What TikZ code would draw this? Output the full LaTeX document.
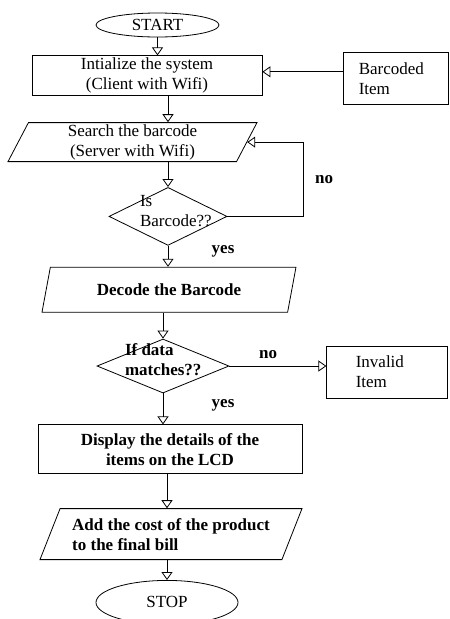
\documentclass[tikz,border=0pt]{standalone}
\usepackage{fontspec}
\setmainfont{Liberation Serif}
\usetikzlibrary{shapes.geometric,arrows.meta,positioning}
\newcommand{\flowfont}{\fontsize{17}{20}\selectfont}
\newcommand{\dtext}[2]{\smash{\makebox[0pt][l]{\hspace*{-#1}\begin{tabular}{@{}l@{}}#2\end{tabular}}}}

\begin{document}
\begin{tikzpicture}[font=\flowfont, line width=0.8pt]
    \tikzstyle{terminal} = [draw, ellipse, inner sep=0pt]
    \tikzstyle{process} = [draw, rectangle, inner sep=0pt, align=center]
    \tikzstyle{io} = [draw, trapezium, trapezium left angle=60, trapezium right angle=120, trapezium stretches body, inner sep=0pt, align=center]
    \tikzstyle{decision} = [draw, diamond, inner sep=0pt]
    \tikzstyle{side} = [draw, rectangle, align=left, inner ysep=0pt]
    \tikzstyle{arrow} = [-{Triangle[open,length=8pt,width=11pt]}]
    \tikzstyle{answer} = [font=\flowfont\bfseries]
    \useasboundingbox (0,0) rectangle (450pt,-619pt);

    \node (start) [terminal, minimum width=123pt, minimum height=24pt] at (157.5pt,-25pt) {START};
    \node (init) [process, below=18pt of start, xshift=-10.5pt, minimum width=230pt, minimum height=40pt] {Intialize the system\\(Client with Wifi)};
    \node (barcode) [side, right=81pt of init, yshift=-2.5pt, text width=75pt, inner xsep=15pt, minimum height=52pt] {Barcoded\\Item};
    \node (search) [io, below=26pt of init, xshift=-14.5pt, minimum width=249pt, minimum height=39pt] {Search the barcode\\(Server with Wifi)};
    \node (isbar) [decision, below=25pt of search, xshift=35.5pt, minimum width=118pt, minimum height=58pt] {\dtext{28pt}{Is\\Barcode??}};
    \node (decode) [io, answer, below=21pt of isbar, xshift=1pt, trapezium left angle=55, trapezium right angle=125, minimum width=254pt, minimum height=45pt] {Decode the Barcode};
    \node (match) [decision, answer, below=26pt of decode, xshift=-6pt, minimum width=132pt, minimum height=54pt] {\dtext{38pt}{If data\\matches??}};
    \node (invalid) [side, right=97pt of match, yshift=-6pt, text width=63pt, inner xsep=29pt, minimum height=52pt] {Invalid\\Item};
    \node (display) [process, answer, below=31pt of match, xshift=7pt, minimum width=264pt, minimum height=49pt] {Display the details of the\\items on the LCD};
    \node (addcost) [io, answer, align=left, below=34pt of display, xshift=1pt, trapezium left angle=58, trapezium right angle=122, minimum width=262pt, minimum height=51pt] {Add the cost of the product\\to the final bill};
    \node (stop) [terminal, below=20pt of addcost, xshift=-4pt, minimum width=142pt, minimum height=44pt] {STOP};

    \draw [arrow] (start) -- (start |- init.north);
    \draw [arrow] ([yshift=4pt]init.east -| barcode.west) -- ([yshift=4pt]init.east);
    \draw [arrow] (isbar |- init.south) -- (isbar |- search.north);
    \draw [arrow] (isbar |- search.south) -- (isbar);
    \draw [arrow] (isbar.east) -- ++(76pt,0) |- (search.east) node [answer, pos=0.25, right=8pt] {no};
    \draw [arrow] (isbar) -- (isbar |- decode.north) node [answer, pos=0.25, right=40pt] {yes};
    \draw [arrow] (match |- decode.south) -- (match);
    \draw [arrow] (match) -- (invalid.west |- match) node [answer, pos=0.4, above=4pt] {no};
    \draw [arrow] (match) -- (match |- display.north) node [answer, pos=0.4, right=45pt] {yes};
    \draw [arrow] (stop |- display.south) -- (stop |- addcost.north);
    \draw [arrow] (stop |- addcost.south) -- (stop);
\end{tikzpicture}
\end{document}
